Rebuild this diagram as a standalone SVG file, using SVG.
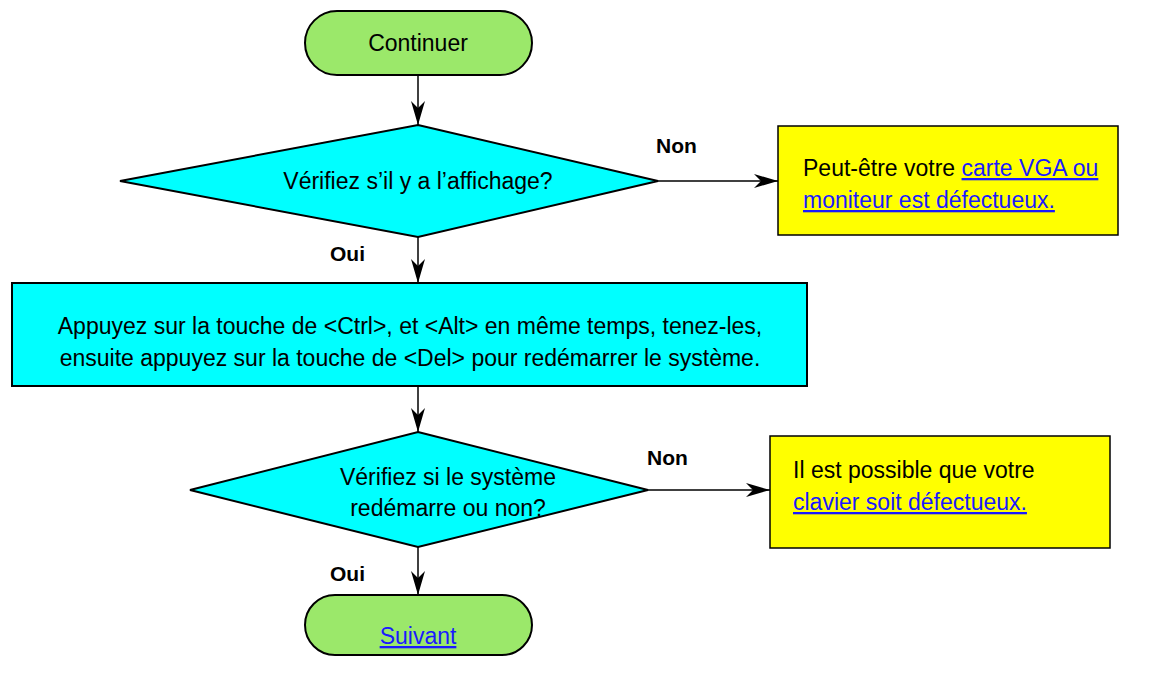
<svg xmlns="http://www.w3.org/2000/svg" width="1154" height="673" viewBox="0 0 1154 673">
<style>
text{font-family:"Liberation Sans",Arial,sans-serif;font-size:23px;fill:#000}
.c{text-anchor:middle}
.b{font-weight:bold;font-size:21px}
.l{fill:#1a1aff;text-decoration:underline}
.t{fill:#9be86a;stroke:#000;stroke-width:2}
.d{fill:#00ffff;stroke:#000;stroke-width:2}
.y{fill:#ffff00;stroke:#000;stroke-width:1.5}
.e{stroke:#000;stroke-width:1.5;fill:none;marker-end:url(#a)}
</style>
<defs><marker id="a" markerWidth="24" markerHeight="14" refX="24" refY="7" orient="auto" markerUnits="userSpaceOnUse"><path d="M0,0 L24,7 L0,14 L7,7 Z" fill="#000"/></marker></defs>
<g id="connectors">
<line class="e" x1="418" y1="75" x2="418" y2="125"/>
<line class="e" x1="658" y1="181" x2="778" y2="181"/>
<line class="e" x1="418" y1="237" x2="418" y2="283"/>
<line class="e" x1="418" y1="386" x2="418" y2="432"/>
<line class="e" x1="648" y1="490" x2="770" y2="490"/>
<line class="e" x1="418" y1="547" x2="418" y2="595"/>
<text class="b" x="656" y="153">Non</text>
<text class="b" x="330" y="261">Oui</text>
<text class="b" x="647" y="465">Non</text>
<text class="b" x="330" y="581">Oui</text>
</g>
<g id="start"><rect class="t" x="305" y="11" width="227" height="64" rx="32"/><text class="c" x="418" y="51">Continuer</text></g>
<g id="d1"><polygon class="d" points="418,125 658,181 418,237 120,181"/><text class="c" x="418" y="189">Vérifiez s’il y a l’affichage?</text></g>
<g id="y1"><rect class="y" x="778" y="126" width="340" height="109"/><text x="803" y="176">Peut-être votre <tspan class="l">carte VGA ou </tspan></text><text class="l" x="803" y="208">moniteur est défectueux.</text></g>
<g id="r1"><rect class="d" x="12" y="283" width="795" height="103"/><text class="c" x="410" y="334">Appuyez sur la touche de &lt;Ctrl&gt;, et &lt;Alt&gt; en même temps, tenez-les,</text><text class="c" x="410" y="366">ensuite appuyez sur la touche de &lt;Del&gt; pour redémarrer le système.</text></g>
<g id="d2"><polygon class="d" points="418,432 648,490 418,547 190,490"/><text class="c" x="448" y="485">Vérifiez si le système</text><text class="c" x="448" y="516">redémarre ou non?</text></g>
<g id="y2"><rect class="y" x="770" y="436" width="340" height="112"/><text x="793" y="478">Il est possible que votre</text><text class="l" x="793" y="510">clavier soit défectueux.</text></g>
<g id="end"><rect class="t" x="305" y="595" width="227" height="60" rx="30"/><text class="c l" x="418" y="644">Suivant</text></g>
</svg>
